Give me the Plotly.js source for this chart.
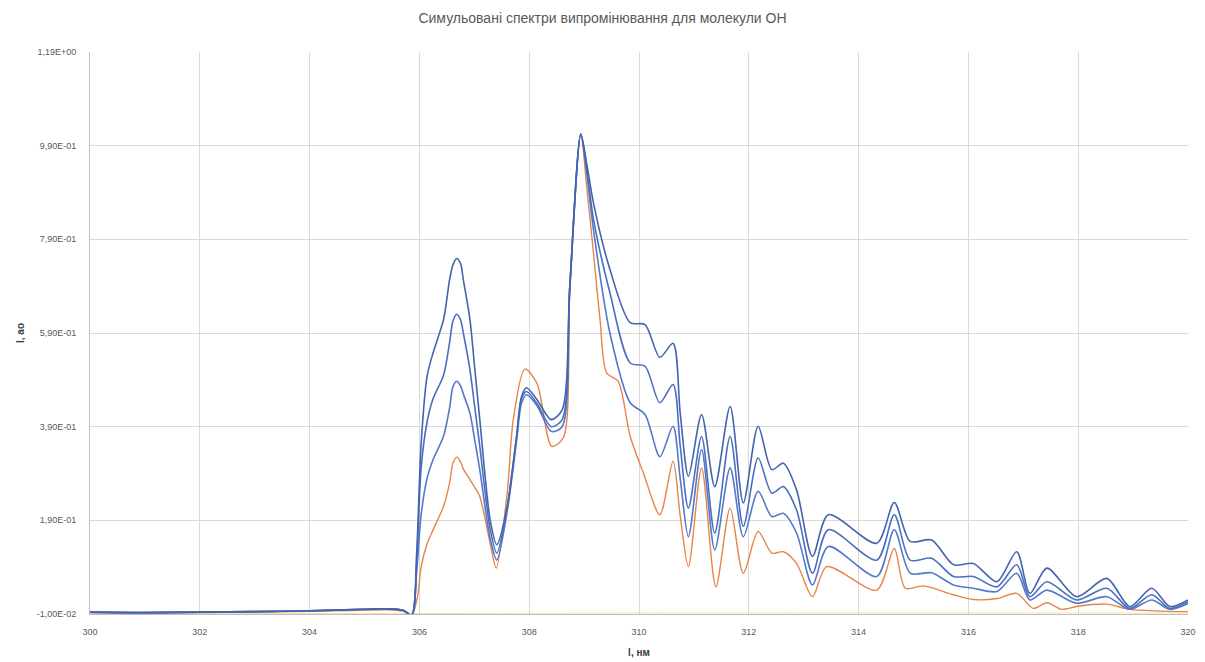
<!DOCTYPE html>
<html>
<head>
<meta charset="utf-8">
<script src="https://cdn.plot.ly/plotly-3.0.1.min.js"></script>
<style>html,body{margin:0;padding:0;background:#fff;}#chart{width:1205px;height:662px;}</style>
</head>
<body>
<div id="chart"></div>
<script>
// Wavelength sample points (nm) for the blue series
const xBlue = [300, 301, 302, 303, 304, 305, 305.4, 305.7, 305.86, 305.95, 306.03, 306.14, 306.25, 306.44, 306.55, 306.61, 306.68, 306.75, 306.8, 306.92, 307.01, 307.1, 307.29, 307.41, 307.6, 307.77, 307.86, 307.95, 308.14, 308.4, 308.6, 308.74, 308.94, 309.05, 309.17, 309.47, 309.84, 310.11, 310.38, 310.62, 310.75, 310.9, 311.14, 311.38, 311.66, 311.9, 312.17, 312.42, 312.63, 312.87, 313.16, 313.45, 314.33, 314.65, 314.94, 315.33, 315.73, 316.09, 316.52, 316.88, 317.12, 317.43, 317.97, 318.52, 318.94, 319.34, 319.67, 320];

const seriesA = [-0.006, -0.007, -0.006, -0.005, -0.003, 0.000, 0.001, -0.002, -0.012, 0.12, 0.35, 0.498, 0.548, 0.619, 0.704, 0.735, 0.749, 0.738, 0.704, 0.619, 0.512, 0.405, 0.19, 0.138, 0.22, 0.369, 0.454, 0.473, 0.448, 0.405, 0.426, 0.69, 1.015, 0.95, 0.868, 0.726, 0.612, 0.608, 0.538, 0.568, 0.42, 0.284, 0.416, 0.262, 0.433, 0.227, 0.391, 0.298, 0.312, 0.255, 0.113, 0.202, 0.141, 0.228, 0.145, 0.148, 0.095, 0.098, 0.059, 0.123, 0.034, 0.088, 0.027, 0.066, 0.006, 0.045, 0.006, 0.02];

const seriesB = [-0.006, -0.007, -0.006, -0.005, -0.003, 0.0, 0.001, -0.002, -0.012, 0.1, 0.3, 0.4, 0.45, 0.5, 0.57, 0.615, 0.63, 0.618, 0.59, 0.512, 0.43, 0.348, 0.17, 0.12, 0.22, 0.369, 0.45, 0.465, 0.44, 0.39, 0.405, 0.69, 1.015, 0.94, 0.833, 0.676, 0.526, 0.519, 0.441, 0.48, 0.35, 0.216, 0.369, 0.163, 0.369, 0.177, 0.323, 0.248, 0.262, 0.212, 0.077, 0.17, 0.105, 0.202, 0.105, 0.109, 0.07, 0.07, 0.048, 0.095, 0.027, 0.059, 0.02, 0.045, 0.002, 0.031, 0.002, 0.016];

const seriesC = [-0.006, -0.007, -0.006, -0.005, -0.003, 0.0, 0.001, -0.002, -0.012, 0.08, 0.2, 0.28, 0.32, 0.37, 0.43, 0.475, 0.487, 0.477, 0.46, 0.419, 0.36, 0.298, 0.15, 0.105, 0.21, 0.36, 0.44, 0.458, 0.435, 0.38, 0.39, 0.69, 1.015, 0.93, 0.811, 0.59, 0.441, 0.416, 0.326, 0.391, 0.28, 0.155, 0.341, 0.127, 0.302, 0.155, 0.252, 0.198, 0.205, 0.163, 0.052, 0.134, 0.07, 0.17, 0.077, 0.078, 0.052, 0.045, 0.038, 0.077, 0.02, 0.041, 0.013, 0.027, 0.0, 0.02, 0.0, 0.012];

// Orange series
const xOrange = [300, 301, 302, 303, 304, 305, 305.4, 305.7, 305.86, 305.97, 306.03, 306.14, 306.25, 306.44, 306.55, 306.61, 306.68, 306.75, 306.8, 306.92, 307.01, 307.1, 307.29, 307.4, 307.6, 307.71, 307.92, 308.14, 308.41, 308.62, 308.74, 308.94, 309.05, 309.17, 309.29, 309.41, 309.62, 309.84, 310.08, 310.38, 310.62, 310.75, 310.9, 311.14, 311.4, 311.66, 311.9, 312.17, 312.42, 312.63, 312.87, 313.16, 313.42, 314.33, 314.65, 314.85, 315.18, 315.73, 316.09, 316.52, 316.88, 317.18, 317.43, 317.7, 317.97, 318.52, 318.94, 320];

const seriesD = [-0.007, -0.008, -0.007, -0.006, -0.004, -0.002, -0.001, -0.004, -0.012, 0.03, 0.09, 0.14, 0.17, 0.22, 0.27, 0.312, 0.325, 0.315, 0.30, 0.277, 0.26, 0.241, 0.14, 0.088, 0.25, 0.405, 0.513, 0.483, 0.348, 0.366, 0.68, 1.015, 0.9, 0.762, 0.619, 0.505, 0.487, 0.369, 0.291, 0.202, 0.316, 0.2, 0.091, 0.302, 0.048, 0.216, 0.077, 0.166, 0.12, 0.123, 0.098, 0.027, 0.091, 0.041, 0.13, 0.045, 0.05, 0.031, 0.021, 0.023, 0.034, 0.002, 0.014, 0.0, 0.006, 0.011, 0.0, -0.005];

// Faint near-baseline series
const xFaint = [300, 303, 306, 310, 314, 317, 320];
const seriesE = [-0.009, -0.009, -0.009, -0.008, -0.008, -0.008, -0.008];

// Axis ticks
const yTickVals = [-0.01, 0.19, 0.39, 0.59, 0.79, 0.99, 1.19];
const yTickText = ["-1,00E-02", "1,90E-01", "3,90E-01", "5,90E-01", "7,90E-01", "9,90E-01", "1,19E+00"];
const xTickVals = [300, 302, 304, 306, 308, 310, 312, 314, 316, 318, 320];

const FONT = "Liberation Sans, Arial, sans-serif";

const mk = (x, y, color, w, name) => ({
  x: x, y: y, type: 'scatter', mode: 'lines', name: name,
  line: {color: color, width: w, shape: 'spline', smoothing: 0.8},
  hoverinfo: 'x+y'
});

const data = [
  mk(xFaint, seriesE, 'rgba(240,205,120,0.6)', 1, 'E'),
  mk(xOrange, seriesD, '#E8834A', 1.4, 'D'),
  mk(xBlue, seriesC, '#5479CA', 1.6, 'C'),
  mk(xBlue, seriesB, '#4A6FBF', 1.6, 'B'),
  mk(xBlue, seriesA, '#4364AE', 1.6, 'A')
];

const layout = {
  width: 1205, height: 662,
  margin: {l: 90, r: 17, t: 52, b: 48},
  paper_bgcolor: '#fff', plot_bgcolor: '#fff',
  showlegend: false,
  title: {text: 'Симульовані спектри випромінювання для молекули OH', x: 0.5, xanchor: 'center', y: 0.973, yanchor: 'middle',
          font: {family: FONT, size: 14, color: '#595959'}},
  xaxis: {
    range: [300, 320], tickvals: xTickVals, ticks: '',
    ticklabelstandoff: 9,
    showgrid: true, gridcolor: '#D9D9D9', gridwidth: 1,
    showline: true, linecolor: '#BFBFBF', linewidth: 1,
    zeroline: false,
    tickfont: {family: FONT, size: 9, color: '#595959'},
    title: {text: '<b>l, нм</b>', font: {family: FONT, size: 10, color: '#404040'}, standoff: 13}
  },
  yaxis: {
    range: [-0.01, 1.19], tickvals: yTickVals, ticktext: yTickText, ticks: '',
    ticklabelstandoff: 11,
    showgrid: true, gridcolor: '#D9D9D9', gridwidth: 1,
    showline: true, linecolor: '#BFBFBF', linewidth: 1,
    zeroline: false,
    tickfont: {family: FONT, size: 9, color: '#595959'},
    title: {text: '<b>I, ао</b>', font: {family: FONT, size: 10, color: '#404040'}, standoff: 10}
  }
};

Plotly.newPlot('chart', data, layout, {displayModeBar: false, staticPlot: true});
</script>
</body>
</html>
